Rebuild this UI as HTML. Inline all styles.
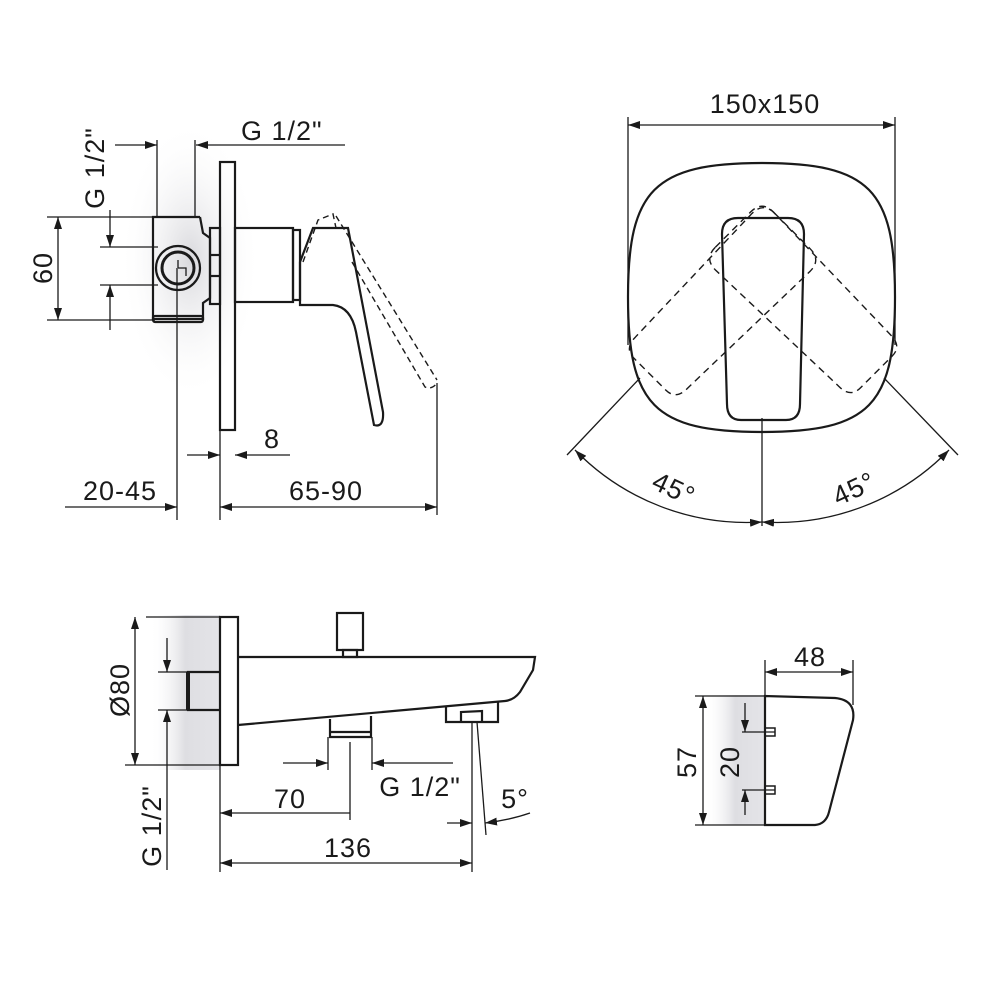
<!DOCTYPE html>
<html><head><meta charset="utf-8"><style>
html,body{margin:0;padding:0;background:#fff;}
svg{display:block;}
text{font-family:"Liberation Sans",sans-serif;font-size:27px;fill:#1a1a1a;letter-spacing:1px;}
</style></head><body>
<svg width="1000" height="1000" viewBox="0 0 1000 1000" xmlns="http://www.w3.org/2000/svg">
<defs>
<marker id="a" viewBox="0 0 12 8" refX="12" refY="4" markerWidth="12" markerHeight="8" markerUnits="userSpaceOnUse" orient="auto-start-reverse"><path d="M0,0 L12,4 L0,8 Z" fill="#1a1a1a"/></marker>
<radialGradient id="g1" cx="0.5" cy="0.5" r="0.5"><stop offset="0" stop-color="#d8d8dc"/><stop offset="1" stop-color="#fff" stop-opacity="0"/></radialGradient>
<linearGradient id="g2" x1="0" x2="1"><stop offset="0" stop-color="#fff" stop-opacity="0"/><stop offset="0.5" stop-color="#dedee2"/><stop offset="1" stop-color="#e4e4e8"/></linearGradient>
</defs>
<ellipse cx="190" cy="260" rx="70" ry="140" fill="url(#g1)"/>
<rect x="150" y="615" width="70" height="155" fill="url(#g2)"/>
<rect x="705" y="695" width="60" height="130" fill="url(#g2)"/>

<g stroke="#1a1a1a" fill="none" stroke-width="1.3">
<line x1="115" y1="145" x2="157" y2="145" marker-end="url(#a)"/>
<line x1="345" y1="145" x2="196" y2="145" marker-end="url(#a)"/>
<line x1="157" y1="140" x2="157" y2="217"/>
<line x1="195" y1="140" x2="195" y2="217"/>
<line x1="110" y1="210" x2="110" y2="247" marker-end="url(#a)"/>
<line x1="110" y1="330" x2="110" y2="285" marker-end="url(#a)"/>
<line x1="100" y1="247" x2="158" y2="247"/>
<line x1="100" y1="285" x2="158" y2="285"/>
<line x1="58" y1="217" x2="58" y2="320" marker-start="url(#a)" marker-end="url(#a)"/>
<line x1="47" y1="217" x2="200" y2="217"/>
<line x1="47" y1="320" x2="155" y2="320"/>
<g stroke-width="2.2">
<path d="M200,217 L153,217 L153,319 L203,319 L203,303 L210,298 L210,238 L203,233 L200,217"/>
<rect x="153" y="316" width="50" height="6" rx="2"/>
<circle cx="178" cy="268" r="22"/>
<circle cx="178" cy="268" r="16" stroke-width="3"/>
<rect x="210" y="228" width="10" height="76"/>
<line x1="210" y1="255" x2="220" y2="255"/><line x1="210" y1="276" x2="220" y2="276"/>
<rect x="220" y="162" width="15" height="268"/>
<rect x="235" y="228" width="58" height="74"/>
<rect x="293" y="230" width="7" height="70"/>
<path d="M300,305 L300,262 L313,228 L348,228 L383,412 Q384,428 374,425 L356,332 Q351,307 333,305 Z"/>
</g>
<path d="M178,268 L178,260 M178,268 L186,268 L186,276" stroke-width="1.3"/>
<g stroke-dasharray="6,4" stroke-width="1.4">
<path d="M303,262 L318,220 L333,214 L336,228"/>
<path d="M336,216 L437,380"/>
<path d="M352,262 L425,387 Q432,390 437,383"/>
</g>
<line x1="437" y1="383" x2="437" y2="515"/>
<line x1="177" y1="268" x2="177" y2="520"/>
<line x1="220" y1="430" x2="220" y2="520"/>
<line x1="187" y1="455" x2="220" y2="455" marker-end="url(#a)"/>
<line x1="290" y1="455" x2="235" y2="455" marker-end="url(#a)"/>
<line x1="65" y1="507" x2="177" y2="507" marker-end="url(#a)"/>
<line x1="220" y1="507" x2="437" y2="507" marker-start="url(#a)" marker-end="url(#a)"/>

<line x1="628" y1="125" x2="895" y2="125" marker-start="url(#a)" marker-end="url(#a)"/>
<line x1="628" y1="117" x2="628" y2="345"/>
<line x1="895" y1="117" x2="895" y2="345"/>
<path stroke-width="2.2" d="M762,163 C870,163 895,190 895,297 C895,405 870,432 762,432 C654,432 628,405 628,297 C628,190 654,163 762,163 Z"/>
<path stroke-width="2.2" d="M738,218 L788,218 Q804,218 804,234 L800,404 Q800,420 786,420 L741,420 Q727,420 727,404 L722,234 Q722,218 738,218 Z"/>
<g stroke-dasharray="7,5" stroke-width="1.4">
<path transform="rotate(45 762 260)" d="M738,218 L788,218 Q804,218 804,234 L800,404 Q800,420 786,420 L741,420 Q727,420 727,404 L722,234 Q722,218 738,218 Z"/>
<path transform="rotate(-45 762 260)" d="M738,218 L788,218 Q804,218 804,234 L800,404 Q800,420 786,420 L741,420 Q727,420 727,404 L722,234 Q722,218 738,218 Z"/>
</g>
<line x1="762" y1="418" x2="762" y2="526"/>
<line x1="640" y1="378" x2="567" y2="455"/>
<line x1="884" y1="378" x2="958" y2="455"/>
<path d="M762,522 A240,240 0 0 1 575,450" marker-start="url(#a)" marker-end="url(#a)"/>
<path d="M762,522 A240,240 0 0 0 949,450" marker-start="url(#a)" marker-end="url(#a)"/>

<line x1="135" y1="617" x2="135" y2="765" marker-start="url(#a)" marker-end="url(#a)"/>
<line x1="146" y1="617" x2="220" y2="617"/>
<line x1="125" y1="765" x2="220" y2="765"/>
<line x1="167" y1="638" x2="167" y2="672" marker-end="url(#a)"/>
<line x1="167" y1="870" x2="167" y2="710" marker-end="url(#a)"/>
<line x1="158" y1="672" x2="188" y2="672"/>
<line x1="158" y1="710" x2="188" y2="710"/>
<g stroke-width="2.2">
<rect x="220" y="617" width="18" height="148"/>
<path d="M220,672 L188,672 L188,710 L220,710"/>
<line x1="188" y1="672" x2="188" y2="710" stroke-width="4"/>
<path d="M238,657 L535,657 L533,670 L520,692 Q514,700 505,701 L238,725"/>
<rect x="337" y="613" width="26" height="37"/>
<rect x="343" y="650" width="14" height="7"/>
<path d="M330,719 L330,737 L371,737 L371,716"/>
<line x1="330" y1="732" x2="371" y2="732"/>
<path d="M446,706 L446,722 L498,722 L498,702"/>
<path d="M461,722 L461,712 L482,711 L482,722"/>
</g>
<line x1="328" y1="737" x2="328" y2="770"/>
<line x1="372" y1="737" x2="372" y2="770"/>
<line x1="283" y1="763" x2="328" y2="763" marker-end="url(#a)"/>
<line x1="453" y1="763" x2="372" y2="763" marker-end="url(#a)"/>
<line x1="350" y1="742" x2="350" y2="820"/>
<line x1="220" y1="765" x2="220" y2="872"/>
<line x1="472" y1="722" x2="472" y2="872"/>
<line x1="477" y1="722" x2="486" y2="835"/>
<line x1="220" y1="813" x2="350" y2="813" marker-start="url(#a)"/>
<line x1="220" y1="863" x2="472" y2="863" marker-start="url(#a)" marker-end="url(#a)"/>
<line x1="447" y1="823" x2="472" y2="823" marker-end="url(#a)"/>
<path d="M530,813 Q510,820 485,823" marker-end="url(#a)"/>

<line x1="765" y1="672" x2="853" y2="672" marker-start="url(#a)" marker-end="url(#a)"/>
<line x1="765" y1="660" x2="765" y2="696"/>
<line x1="853" y1="660" x2="853" y2="705"/>
<path stroke-width="2.2" d="M765,696 L765,825 L815,825 Q826,824 829,812 L853,720 Q856,700 835,698 Z"/>
<line x1="703" y1="696" x2="703" y2="825" marker-start="url(#a)" marker-end="url(#a)"/>
<line x1="695" y1="696" x2="765" y2="696"/>
<line x1="695" y1="825" x2="765" y2="825"/>
<line x1="745" y1="703" x2="745" y2="732" marker-end="url(#a)"/>
<line x1="745" y1="815" x2="745" y2="790" marker-end="url(#a)"/>
<line x1="742" y1="732" x2="775" y2="732"/>
<line x1="742" y1="790" x2="775" y2="790"/>
<rect x="765" y="728" width="10" height="8" stroke-width="1.5"/>
<rect x="765" y="786" width="10" height="8" stroke-width="1.5"/>
</g>

<text x="241" y="140">G 1/2"</text>
<text transform="translate(104,168) rotate(-90)" text-anchor="middle">G 1/2"</text>
<text transform="translate(52,268) rotate(-90)" text-anchor="middle">60</text>
<text x="272" y="448" text-anchor="middle">8</text>
<text x="120" y="500" text-anchor="middle">20-45</text>
<text x="326" y="500" text-anchor="middle">65-90</text>
<text x="765" y="113" text-anchor="middle">150x150</text>
<text transform="translate(670,497) rotate(25)" text-anchor="middle">45°</text>
<text transform="translate(858,497) rotate(-25)" text-anchor="middle">45°</text>
<text transform="translate(129,690) rotate(-90)" text-anchor="middle">Ø80</text>
<text transform="translate(161,826) rotate(-90)" text-anchor="middle">G 1/2"</text>
<text x="420" y="796" text-anchor="middle">G 1/2"</text>
<text x="290" y="808" text-anchor="middle">70</text>
<text x="515" y="808" text-anchor="middle">5°</text>
<text x="348" y="857" text-anchor="middle">136</text>
<text x="810" y="666" text-anchor="middle">48</text>
<text transform="translate(696,762) rotate(-90)" text-anchor="middle">57</text>
<text transform="translate(739,762) rotate(-90)" text-anchor="middle">20</text>
</svg>
</body></html>
